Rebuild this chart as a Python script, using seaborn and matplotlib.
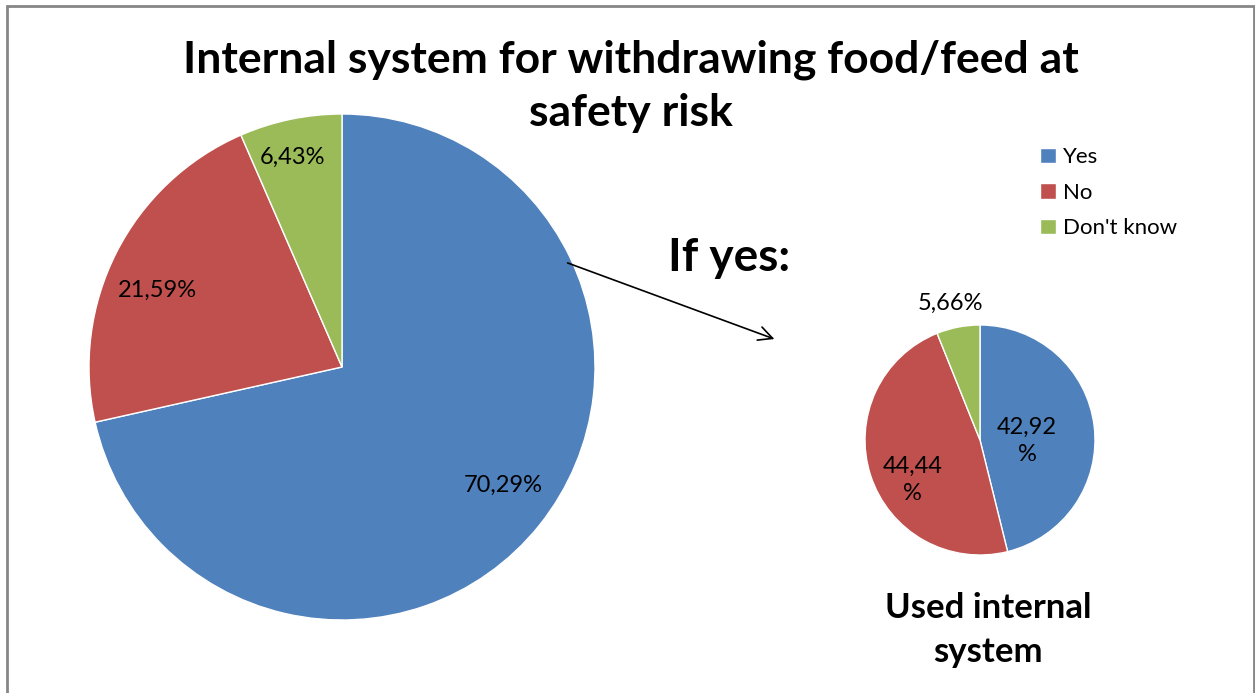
import numpy as np
import matplotlib
matplotlib.use("Agg")
import matplotlib.pyplot as plt
import matplotlib.patches as mpatches
import seaborn as sns

# data
categories = ["Yes", "No", "Don't know"]
main_values = [70.29, 21.59, 6.43]
main_labels = ["70,29%", "21,59%", "6,43%"]
sub_values = [42.92, 44.44, 5.66]
sub_labels = ["42,92\n%", "44,44\n%", "5,66%"]

title = "Internal system for withdrawing food/feed at\nsafety risk"
sub_title = "Used internal\nsystem"

sns.set_style("white")
plt.rcParams['font.family'] = ['Lato', 'DejaVu Sans']
plt.rcParams['text.color'] = 'black'

colors = sns.color_palette(["#4F81BD", "#C0504D", "#9BBB59"])

W, H = 1255, 693
fig = plt.figure(figsize=(W / 100, H / 100), dpi=100)


def box(x0, y0, x1, y1):
    return [x0 / W, (H - y1) / H, (x1 - x0) / W, (y1 - y0) / H]


def draw_pie(ax, values, labels, dists, shifts, fs):
    wedges, _ = ax.pie(values, colors=colors, startangle=90, counterclock=False,
                       radius=1, wedgeprops=dict(edgecolor="white", linewidth=1))
    for w, lab, d, s in zip(wedges, labels, dists, shifts):
        ang = np.deg2rad((w.theta1 + w.theta2) / 2 + s)
        ax.text(d * np.cos(ang), d * np.sin(ang), lab, ha="center", va="center",
                fontsize=fs, color="black", linespacing=1.35)
    ax.set_xlim(-1, 1)
    ax.set_ylim(-1, 1)
    ax.set_aspect("equal")
    ax.axis("off")
    return wedges


ax1 = fig.add_axes(box(89, 114, 595, 620))
wedges = draw_pie(ax1, main_values, main_labels, [0.79, 0.79, 0.85], [2.5, 4.3, 1.6], 17)

ax2 = fig.add_axes(box(865, 325, 1095, 555))
draw_pie(ax2, sub_values, sub_labels, [0.41, 0.68, 1.22], [-8, 13, 1.4], 17)

fig.text(631 / W, 1 - 86 / H, title, ha="center", va="center",
         fontsize=32, fontweight="bold", linespacing=1.4)
fig.text(729 / W, 1 - 258 / H, "If yes:", ha="center", va="center",
         fontsize=33, fontweight="bold")
fig.text(988 / W, 1 - 630 / H, sub_title, ha="center", va="center",
         fontsize=25, fontweight="bold", linespacing=1.5)

fig.legend(wedges, categories, loc="upper left", bbox_to_anchor=(1029 / W, 1 - 136 / H),
           frameon=False, fontsize=16, handlelength=0.7, handleheight=0.7,
           handletextpad=0.35, labelspacing=0.7, borderpad=0)

fig.add_artist(mpatches.FancyArrowPatch((565, H - 262), (777, H - 340),
                                        transform=None, arrowstyle="->",
                                        mutation_scale=25, color="black", lw=1.2))

fig.add_artist(mpatches.Rectangle((7 / W, -0.02), (1254 - 7) / W, (H - 6) / H + 0.02,
                                  transform=fig.transFigure, fill=False,
                                  edgecolor="#868686", linewidth=2))

fig.savefig("out.png", dpi=100)
